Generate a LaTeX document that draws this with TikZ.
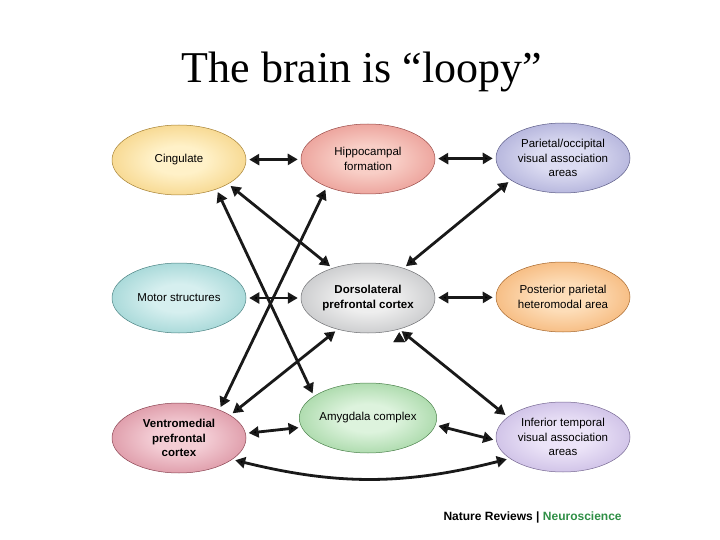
\documentclass[tikz,border=0pt]{standalone}
\usepackage{fontspec}
\setmainfont{Liberation Serif}
\setsansfont{Liberation Sans}
\usetikzlibrary{
    arrows.meta,
    shapes.geometric,
    positioning
}

% lobe colours: inner, outer
\definecolor{cingin}{HTML}{FFF1C8}  \definecolor{cingout}{HTML}{EDBA4C}
\definecolor{hippin}{HTML}{F8CEC6}  \definecolor{hippout}{HTML}{DE6E68}
\definecolor{pariin}{HTML}{DCDCF2}  \definecolor{pariout}{HTML}{8686C2}
\definecolor{motin}{HTML}{D6EFEF}   \definecolor{motout}{HTML}{6EBDBD}
\definecolor{dlin}{HTML}{EEEEEE}    \definecolor{dlout}{HTML}{A0A2A6}
\definecolor{postin}{HTML}{FDDDB8}  \definecolor{postout}{HTML}{EE9440}
\definecolor{vmin}{HTML}{F3CCD4}    \definecolor{vmout}{HTML}{C66276}
\definecolor{amyin}{HTML}{DDF3DD}   \definecolor{amyout}{HTML}{70BC70}
\definecolor{itin}{HTML}{ECE4F8}    \definecolor{itout}{HTML}{AC98D2}
\definecolor{natgreen}{HTML}{2F8F46}

\colorlet{lobein}{white}
\colorlet{lobeout}{gray}
\pgfdeclareradialshading[lobein,lobeout]{lobe}{\pgfpoint{0bp}{0bp}}{%
    color(0bp)=(lobein); color(10bp)=(lobein); color(46bp)=(lobeout); color(50bp)=(lobeout)}

\begin{document}
\begin{tikzpicture}[x=1pt, y=-1pt,
    lobe/.style 2 args={ellipse, minimum width=134pt, minimum height=70pt,
        inner sep=0pt, align=center, draw=#2!70!black, line width=0.5pt,
        font=\sffamily\fontsize{11.5}{14.5}\selectfont,
        /utils/exec={\colorlet{lobein}{#1}\colorlet{lobeout}{#2}}, shading=lobe},
    link/.style={draw=black!90, line width=2.8pt,
        {Triangle[length=10pt,width=11pt]}-{Triangle[length=10pt,width=11pt]},
        shorten <=3pt, shorten >=3pt}]
\useasboundingbox (0,0) rectangle (720,540);

\node[anchor=base, font=\fontsize{44}{50}\selectfont] (title) at (362,83) {The brain is “loopy”};

\node[lobe={cingin}{cingout}] (cing) at (179,160) {Cingulate};
\node[lobe={hippin}{hippout}] (hipp) at (368,159) {Hippocampal\\formation};
\node[lobe={pariin}{pariout}] (pari) at (563,158) {Parietal/occipital\\visual association\\areas};
\node[lobe={motin}{motout}] (motor) at (179,298) {Motor structures};
\node[lobe={dlin}{dlout}, font=\sffamily\bfseries\fontsize{11.5}{14.5}\selectfont] (dlpfc) at (368,298) {Dorsolateral\\prefrontal cortex};
\node[lobe={postin}{postout}] (post) at (563,297) {Posterior parietal\\heteromodal area};
\node[lobe={vmin}{vmout}, font=\sffamily\bfseries\fontsize{11.5}{14.5}\selectfont] (vmpfc) at (179,438) {Ventromedial\\prefrontal\\cortex};
\node[lobe={amyin}{amyout}] (amyg) at (368,418) {Amygdala complex};
\node[lobe={itin}{itout}] (infT) at (563,437) {Inferior temporal\\visual association\\areas};

\draw[link]
    (cing) edge (hipp)
    (hipp) edge (pari)
    (motor) edge (dlpfc)
    (dlpfc) edge (post)
    (vmpfc.4) edge (amyg.188)
    (amyg.-6) edge (infT.183)
    (vmpfc.-22) edge[bend right=14] (infT.-158)
    (cing.-26) edge (dlpfc.140)
    (cing.-38) edge (amyg.158)
    (hipp.214) edge (vmpfc.35)
    (dlpfc.226) edge (vmpfc.24)
    (pari.203) edge (dlpfc.40)
    (dlpfc.-45) edge (infT.160);

\node[anchor=base west, font=\sffamily\bfseries\fontsize{12}{14}\selectfont] (credit) at (440,520)
    {Nature Reviews | \textcolor{natgreen}{Neuroscience}};
\end{tikzpicture}
\end{document}
